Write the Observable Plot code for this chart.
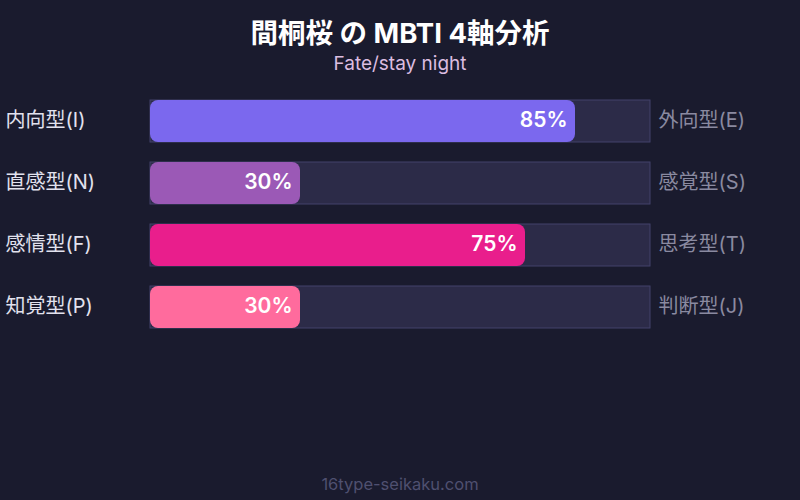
<!DOCTYPE html>
<html>
<head>
<meta charset="utf-8">
<script src="https://cdn.jsdelivr.net/npm/d3@7"></script>
<script src="https://cdn.jsdelivr.net/npm/@observablehq/plot@0.6"></script>
<style>
  html, body { margin: 0; padding: 0; background: #1a1b2e; }
  body { width: 800px; height: 500px; position: relative; overflow: hidden;
         font-family: Inter, "Noto Sans CJK JP", sans-serif; }
  #title { position: absolute; top: 14px; left: 0; width: 800px; text-align: center;
           color: #ffffff; font-size: 27.5px; font-weight: bold; line-height: 38px; }
  #subtitle { position: absolute; top: 52px; left: 0; width: 800px; text-align: center;
              color: #dcbde0; font-size: 19px; line-height: 24px; }
  #footer { position: absolute; top: 473px; left: 0; width: 800px; text-align: center;
            color: #4f5070; font-size: 16.5px; line-height: 22px; }
  #chart { position: absolute; top: 0; left: 0; }
</style>
</head>
<body>
<div id="title">間桐桜 の MBTI 4軸分析</div>
<div id="subtitle">Fate/stay night</div>
<div id="chart"></div>
<div id="footer">16type-seikaku.com</div>
<script>
const axes = ["IE", "NS", "FT", "PJ"];
const leftLabels = ["内向型(I)", "直感型(N)", "感情型(F)", "知覚型(P)"];
const rightLabels = ["外向型(E)", "感覚型(S)", "思考型(T)", "判断型(J)"];
const values = [85, 30, 75, 30];
const colors = ["#7b68ee", "#9b59b6", "#e91e8c", "#ff6b9d"];

const rows = axes.map((a, i) => ({
  axis: a, left: leftLabels[i], right: rightLabels[i], value: values[i], color: colors[i]
}));

const chart = Plot.plot({
  width: 800,
  height: 500,
  marginLeft: 150,
  marginRight: 150,
  marginTop: 0,
  marginBottom: 0,
  style: { background: "transparent", fontFamily: "Inter, \"Noto Sans CJK JP\", sans-serif" },
  x: { domain: [0, 100], axis: null },
  y: { domain: axes, range: [90, 338], paddingInner: 20 / 62, paddingOuter: 10 / 62, axis: null },
  marks: [
    Plot.barX(rows, { y: "axis", x1: 0, x2: 100, fill: "#2c2b48", stroke: "#42426a", strokeWidth: 1 }),
    Plot.barX(rows, { y: "axis", x1: 0, x2: "value", fill: "color", rx: 8 }),
    Plot.text(rows, { y: "axis", x: "value", text: d => d.value + "%", textAnchor: "end", dx: -8, dy: -1,
      fill: "#ffffff", fontSize: 21, fontWeight: 600 }),
    Plot.text(rows, { y: "axis", x: 0, text: "left", textAnchor: "start", dx: -145, dy: -1,
      fill: "#e2e2ee", fontSize: 20 }),
    Plot.text(rows, { y: "axis", x: 100, text: "right", textAnchor: "start", dx: 8, dy: -1,
      fill: "#8a8aa0", fontSize: 20 })
  ]
});
document.getElementById("chart").appendChild(chart);
</script>
</body>
</html>
